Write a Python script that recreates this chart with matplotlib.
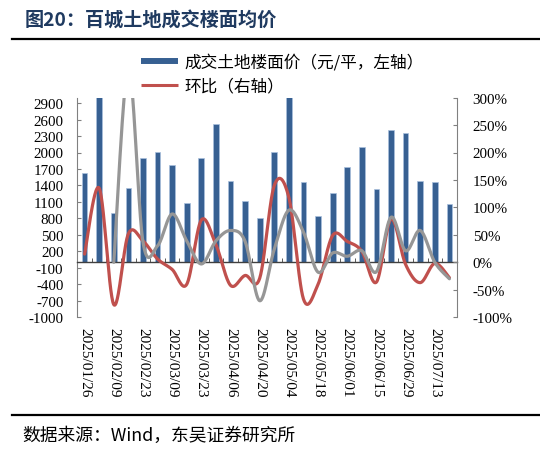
import numpy as np
import matplotlib
matplotlib.use("Agg")
import matplotlib.pyplot as plt
from matplotlib.lines import Line2D

plt.rcParams['font.family'] = ['Noto Sans CJK SC', 'DejaVu Sans']

# ---------------- data ----------------
dates = ['2025/01/26', '2025/02/02', '2025/02/09', '2025/02/16', '2025/02/23',
         '2025/03/02', '2025/03/09', '2025/03/16', '2025/03/23', '2025/03/30',
         '2025/04/06', '2025/04/13', '2025/04/20', '2025/04/27', '2025/05/04',
         '2025/05/11', '2025/05/18', '2025/05/25', '2025/06/01', '2025/06/08',
         '2025/06/15', '2025/06/22', '2025/06/29', '2025/07/06', '2025/07/13',
         '2025/07/20']
price = [1621, 3840, 898, 1353, 1894, 2003, 1767, 1074, 1894, 2514,
         1475, 1122, 807, 2003, 4450, 1457, 849, 1257, 1730, 2100,
         1335, 2410, 2355, 1481, 1457, 1062]
mom = [15, 135, -77, 52, 39, 6, -13, -40, 77, 32,
       -42, -24, -29, 140, 118, -67, -40, 49, 38, 20,
       -36, 79, -4, -37, -2, -28]
gray_vals = [None, None, 0, 355, 37, 30, 88, 39, -3, 39,
             58, 38, -70, 24, 95, 55, -18, 17, 11, 21,
             -17, 82, 21, 58, 0, -30]

legend_bar = '成交土地楼面价（元/平，左轴）'
legend_line = '环比（右轴）'
title = '图20：百城土地成交楼面均价'
source = '数据来源：Wind，东吴证券研究所'

left_ticks = list(range(-1000, 3000, 300))
right_ticks = list(range(-100, 301, 50))


def smooth(xs, ys, n=30):
    pts = np.column_stack([xs, ys]).astype(float)
    out = []
    m = len(pts)
    for i in range(m - 1):
        p0 = pts[i - 1] if i > 0 else pts[i]
        p1 = pts[i]
        p2 = pts[i + 1]
        p3 = pts[i + 2] if i + 2 < m else pts[i + 1]
        c1 = p1 + (p2 - p0) / 6.0
        c2 = p2 - (p3 - p1) / 6.0
        t = np.linspace(0, 1, n)[:, None]
        seg = ((1 - t) ** 3) * p1 + 3 * ((1 - t) ** 2) * t * c1 + 3 * (1 - t) * t ** 2 * c2 + t ** 3 * p2
        out.append(seg if i == 0 else seg[1:])
    arr = np.vstack(out)
    return arr[:, 0], arr[:, 1]


# ---------------- figure ----------------
W, H = 540, 456
fig = plt.figure(figsize=(W / 100, H / 100), dpi=100)
ax = fig.add_axes([77.3 / W, 1 - 318.2 / H, 379.4 / W, 219.6 / H])
ax2 = ax.twinx()

x = np.arange(len(dates))
ax.bar(x, price, width=0.39, color='#376092', edgecolor='#A9C0DD', linewidth=0.5, zorder=2)
ax.set_xlim(-0.5, len(dates) - 0.5)
ax.set_ylim(-1000, 3000)
ax.set_yticks(left_ticks)
ax.set_yticklabels([str(v) for v in left_ticks], fontfamily='Liberation Serif', fontsize=10.8)

ax2.set_ylim(-100, 300)
ax2.set_yticks(right_ticks)
ax2.set_yticklabels([f'{v}%' for v in right_ticks], fontfamily='Liberation Serif', fontsize=10.8)

sx, sy = smooth(x, mom)
ax2.plot(sx, sy, color='#C0504D', lw=2.3, solid_capstyle='round', zorder=3)
gi = [i for i, v in enumerate(gray_vals) if v is not None]
gx, gy = smooth(np.array(gi), np.array([gray_vals[i] for i in gi]))
ax2.plot(gx, gy, color='#969696', lw=2.3, solid_capstyle='round', zorder=4)

spine_c = '#808080'
for a in (ax, ax2):
    a.spines['top'].set_visible(False)
    a.spines['left'].set_color(spine_c)
    a.spines['right'].set_color(spine_c)
ax2.spines['bottom'].set_visible(False)
ax.spines['right'].set_visible(False)
ax2.spines['left'].set_visible(False)

ax.spines['bottom'].set_position(('data', 0))
ax.spines['bottom'].set_color('#404040')
ax.spines['bottom'].set_linewidth(1.0)
ax.set_xticks([])
ax.set_xticks(np.arange(0.5, len(dates) - 1, 1.0), minor=True)
ax.tick_params(axis='x', which='minor', direction='in', length=3, color='#404040')
ax.tick_params(axis='y', direction='in', length=3, color=spine_c, pad=10)
ax2.tick_params(axis='y', direction='in', length=3, color=spine_c, pad=11.5)

sec = ax.secondary_xaxis('bottom')
sec.set_xticks(x[::2])
sec.set_xticklabels([dates[i] for i in x[::2]], rotation=-90,
                    fontfamily='Liberation Serif', fontsize=11)
sec.tick_params(length=0, pad=7)
sec.spines['bottom'].set_visible(False)

# legend
h1 = Line2D([], [], color='#376092', lw=4.3, solid_capstyle='butt')
h2 = Line2D([], [], color='#C0504D', lw=2.2, solid_capstyle='butt')
fig.legend([h1, h2], [legend_bar, legend_line], loc='upper left',
           bbox_to_anchor=(141 / W, 1 - 55 / H), frameon=False,
           fontsize=12, handlelength=2.2, handletextpad=0.4,
           labelspacing=0.4, borderpad=0, borderaxespad=0)

# title, rules, source
fig.text(25 / W, 1 - 21 / H, title, fontsize=13.8, fontweight='bold',
         color='#1F3A60', ha='left', va='center')
fig.add_artist(Line2D([12 / W, 1], [1 - 40 / H, 1 - 40 / H], color='black', lw=1.6,
                      transform=fig.transFigure))
fig.add_artist(Line2D([12 / W, 1], [1 - 416 / H, 1 - 416 / H], color='black', lw=1.6,
                      transform=fig.transFigure))
fig.text(22 / W, 1 - 436 / H, source, fontsize=12.8, color='black', ha='left', va='center')

fig.savefig('out.png', dpi=100)
